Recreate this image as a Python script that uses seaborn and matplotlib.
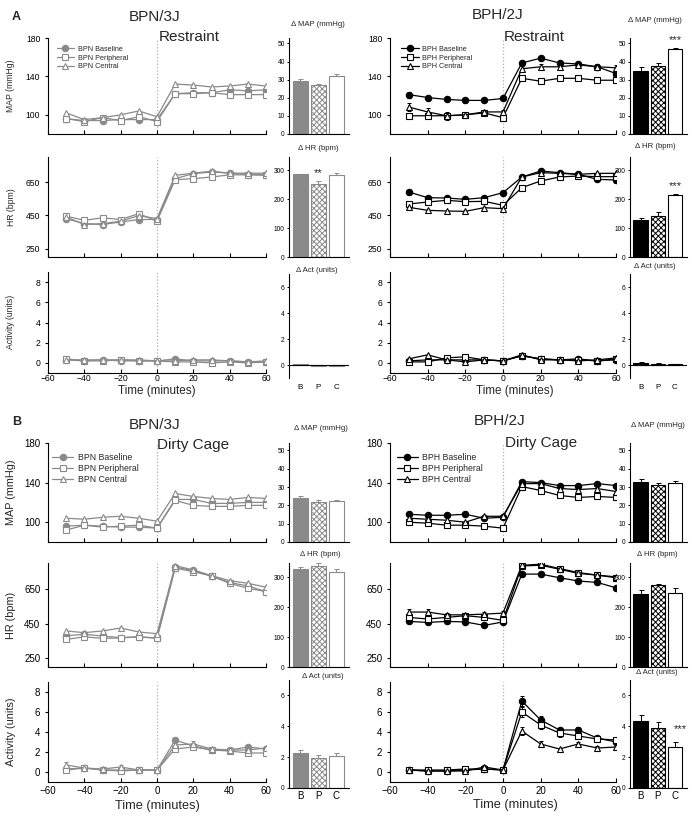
import matplotlib
matplotlib.use("Agg")
import matplotlib.pyplot as plt
import seaborn as sns

# ==========================================
# DATOS
# ==========================================
TIEMPO = [-50, -40, -30, -20, -10, 0, 10, 20, 30, 40, 50, 60]
BARRAS = ["B", "P", "C"]

# --- A: Restraint, BPN/3J ---
A_BPN_MAP_BASE = [96, 94, 94, 95, 95, 95, 122, 123, 123, 126, 125, 126]
A_BPN_MAP_PERI = [96, 93, 97, 94, 98, 93, 122, 122, 123, 121, 121, 121]
A_BPN_MAP_CENT = [102, 95, 97, 100, 104, 98, 132, 131, 129, 130, 132, 130]
A_BPN_HR_BASE = [430, 400, 395, 410, 425, 425, 670, 700, 710, 703, 695, 695]
A_BPN_HR_PERI = [445, 420, 435, 425, 460, 415, 664, 670, 680, 693, 693, 690]
A_BPN_HR_CENT = [440, 395, 400, 415, 448, 430, 690, 703, 715, 703, 703, 703]
A_BPN_ACT_BASE = [0.3, 0.2, 0.3, 0.2, 0.2, 0.2, 0.4, 0.2, 0.2, 0.2, 0.1, 0.1]
A_BPN_ACT_PERI = [0.4, 0.2, 0.2, 0.3, 0.2, 0.2, 0.1, 0.1, 0.0, 0.1, 0.0, 0.1]
A_BPN_ACT_CENT = [0.3, 0.3, 0.3, 0.3, 0.3, 0.2, 0.2, 0.3, 0.3, 0.2, 0.1, 0.2]

# --- A: Restraint, BPH/2J ---
A_BPH_MAP_BASE = [121, 118, 116, 115, 115, 117, 154, 159, 154, 153, 150, 143]
A_BPH_MAP_PERI = [99, 99, 99, 100, 102, 97, 138, 135, 138, 138, 136, 136]
A_BPH_MAP_CENT = [108, 103, 99, 100, 103, 103, 148, 150, 150, 152, 150, 149]
A_BPH_MAP_ERR_BASE = [3, 2, 2, 3, 2, 2, 2, 2, 2, 2, 2, 3]
A_BPH_MAP_ERR_PERI = [2, 2, 2, 2, 2, 2, 2, 2, 2, 2, 2, 2]
A_BPH_MAP_ERR_CENT = [4, 4, 4, 2, 2, 2, 3, 3, 3, 3, 3, 3]
A_BPH_HR_BASE = [590, 556, 554, 546, 556, 586, 680, 716, 706, 696, 666, 662]
A_BPH_HR_PERI = [518, 530, 540, 532, 534, 510, 616, 656, 680, 686, 682, 682]
A_BPH_HR_CENT = [498, 480, 476, 474, 496, 490, 680, 706, 702, 696, 702, 702]
A_BPH_HR_ERR_BASE = [15, 10, 10, 10, 10, 10, 10, 15, 12, 10, 10, 15]
A_BPH_ACT_BASE = [0.2, 0.3, 0.3, 0.3, 0.3, 0.2, 0.7, 0.4, 0.3, 0.4, 0.2, 0.3]
A_BPH_ACT_PERI = [0.1, 0.1, 0.5, 0.6, 0.3, 0.2, 0.7, 0.4, 0.3, 0.3, 0.2, 0.4]
A_BPH_ACT_CENT = [0.4, 0.8, 0.3, 0.1, 0.3, 0.2, 0.8, 0.3, 0.3, 0.2, 0.3, 0.5]

# --- B: Dirty Cage, BPN/3J ---
B_BPN_MAP_BASE = [96, 97, 96, 95, 95, 94, 123, 123, 119, 119, 120, 120]
B_BPN_MAP_PERI = [92, 97, 95, 96, 97, 94, 122, 117, 116, 116, 117, 117]
B_BPN_MAP_CENT = [104, 103, 105, 106, 104, 101, 129, 126, 124, 123, 125, 124]
B_BPN_HR_BASE = [380, 389, 378, 370, 374, 368, 776, 757, 725, 687, 668, 635]
B_BPN_HR_PERI = [359, 374, 365, 368, 374, 365, 770, 750, 725, 683, 654, 635]
B_BPN_HR_CENT = [408, 398, 408, 425, 402, 392, 785, 760, 727, 698, 683, 660]
B_BPN_ACT_BASE = [0.3, 0.4, 0.2, 0.2, 0.2, 0.2, 3.2, 2.6, 2.2, 2.2, 2.5, 2.3]
B_BPN_ACT_PERI = [0.2, 0.4, 0.2, 0.1, 0.2, 0.2, 2.3, 2.5, 2.2, 2.1, 1.9, 1.9]
B_BPN_ACT_CENT = [0.7, 0.4, 0.3, 0.5, 0.2, 0.2, 2.7, 2.8, 2.3, 2.2, 2.2, 2.4]
B_BPN_ACT_ERR_CENT = [0.3, 0.1, 0.1, 0.2, 0.1, 0.1, 0.2, 0.3, 0.2, 0.1, 0.2, 0.2]

# --- B: Dirty Cage, BPH/2J ---
B_BPH_MAP_BASE = [108, 107, 107, 108, 104, 105, 141, 140, 137, 137, 139, 137]
B_BPH_MAP_PERI = [100, 99, 97, 97, 96, 94, 136, 132, 127, 125, 126, 125]
B_BPH_MAP_CENT = [104, 103, 102, 100, 106, 106, 139, 139, 134, 133, 134, 131]
B_BPH_HR_BASE = [463, 457, 463, 460, 440, 460, 736, 736, 715, 696, 688, 657]
B_BPH_HR_PERI = [486, 477, 486, 496, 486, 469, 783, 787, 764, 740, 730, 715]
B_BPH_HR_CENT = [517, 517, 501, 501, 505, 511, 787, 793, 768, 745, 730, 720]
B_BPH_HR_ERR_CENT = [20, 15, 10, 10, 15, 10, 10, 10, 10, 10, 10, 10]
B_BPH_ACT_BASE = [0.2, 0.1, 0.1, 0.2, 0.3, 0.2, 7.1, 5.2, 4.2, 4.2, 3.4, 3.0]
B_BPH_ACT_PERI = [0.2, 0.2, 0.2, 0.3, 0.3, 0.2, 6.0, 4.7, 3.9, 3.6, 3.3, 3.2]
B_BPH_ACT_CENT = [0.2, 0.1, 0.1, 0.1, 0.5, 0.2, 4.1, 2.8, 2.3, 2.8, 2.4, 2.5]
B_BPH_ACT_ERR_BASE = [0.1, 0.1, 0.1, 0.1, 0.1, 0.1, 0.5, 0.4, 0.2, 0.3, 0.2, 0.2]
B_BPH_ACT_ERR_PERI = [0.1, 0.1, 0.1, 0.1, 0.1, 0.1, 0.5, 0.4, 0.4, 0.3, 0.3, 0.2]
B_BPH_ACT_ERR_CENT = [0.1, 0.1, 0.1, 0.1, 0.2, 0.1, 0.4, 0.3, 0.1, 0.2, 0.2, 0.1]

# --- Barras: cambio (Delta) respecto al basal ---
A_BPN_D_MAP = [29.5, 27.2, 31.8]
A_BPN_D_MAP_ERR = [0.8, 0.5, 1.3]
A_BPN_D_HR = [285, 252, 284]
A_BPN_D_HR_ERR = [3, 9, 7]
A_BPN_D_ACT = [0.05, -0.1, -0.06]
A_BPN_D_ACT_ERR = [0.03, 0.03, 0.03]
A_BPH_D_MAP = [34.8, 37.5, 46.8]
A_BPH_D_MAP_ERR = [2.0, 1.5, 0.6]
A_BPH_D_HR = [126, 143, 214]
A_BPH_D_HR_ERR = [10, 12, 4]
A_BPH_D_ACT = [0.15, 0.1, 0.08]
A_BPH_D_ACT_ERR = [0.06, 0.03, 0.03]
B_BPN_D_MAP = [24.2, 21.8, 22.2]
B_BPN_D_MAP_ERR = [0.8, 1.2, 0.9]
B_BPN_D_HR = [327, 338, 319]
B_BPN_D_HR_ERR = [8, 9, 8]
B_BPN_D_ACT = [2.3, 1.96, 2.07]
B_BPN_D_ACT_ERR = [0.15, 0.2, 0.2]
B_BPH_D_MAP = [33.0, 31.0, 32.2]
B_BPH_D_MAP_ERR = [1.2, 1.0, 0.9]
B_BPH_D_HR = [245, 274, 249]
B_BPH_D_HR_ERR = [13, 5, 15]
B_BPH_D_ACT = [4.35, 3.9, 2.68]
B_BPH_D_ACT_ERR = [0.35, 0.38, 0.28]

# ==========================================
# ESTILO
# ==========================================
GRIS = "#8a8a8a"
NEGRO = "black"

sns.set_style("ticks")
plt.rcParams["font.family"] = ["Liberation Sans", "DejaVu Sans"]
plt.rcParams["hatch.linewidth"] = 0.7
plt.rcParams["axes.linewidth"] = 0.8
plt.rcParams["axes.edgecolor"] = "black"
plt.rcParams["xtick.color"] = "black"
plt.rcParams["ytick.color"] = "black"

W, H = 693, 817
fig = plt.figure(figsize=(W / 100, H / 100), dpi=100)


def caja(x0, y0, x1, y1):
    """Convierte una caja en pixeles (origen arriba-izquierda) a coordenadas de figura."""
    return [x0 / W, 1 - y1 / H, (x1 - x0) / W, (y1 - y0) / H]


def texto(px, py, s, **kw):
    fig.text(px / W, 1 - py / H, s, **kw)


def panel_lineas(cx, cy, cepa, series, errores, color, ylim, yticks, fs, con_x, leyenda=None):
    ax = fig.add_axes(caja(cx[0], cy[0], cx[1], cy[1]))
    estilos = [("o", color), ("s", "white"), ("^", "white")]
    nombres = [f"{cepa} Baseline", f"{cepa} Peripheral", f"{cepa} Central"]
    for valores, err, (marca, relleno), nombre in zip(series, errores, estilos, nombres):
        if err is not None:
            ax.errorbar(TIEMPO, valores, yerr=err, fmt="none", ecolor=color,
                        elinewidth=0.7, capsize=1.6, capthick=0.7, zorder=1)
        sns.lineplot(x=TIEMPO, y=valores, ax=ax, color=color, linewidth=0.9,
                     marker=marca, markersize=4.6, markerfacecolor=relleno,
                     markeredgecolor=color, markeredgewidth=0.8, label=nombre,
                     legend=False, zorder=2)
    ax.axvline(0, color="#b0b0b0", linestyle=":", linewidth=0.9, zorder=0)
    ax.set_xlim(-60, 60)
    ax.set_ylim(*ylim)
    ax.set_xticks(range(-60, 61, 20))
    ax.set_yticks(yticks)
    ax.tick_params(axis="x", direction="in", length=3, width=0.8,
                   labelsize=fs, pad=0.5 if fs < 7 else 3)
    ax.tick_params(axis="y", direction="out", length=2.5, width=0.8,
                   labelsize=fs, pad=3)
    if not con_x:
        ax.set_xticklabels([])
    ax.set_xlabel("")
    ax.set_ylabel("")
    sns.despine(ax=ax)
    if leyenda is not None:
        ax.legend(loc="upper left", bbox_to_anchor=leyenda[0], frameon=False,
                  fontsize=leyenda[1], handlelength=2.4, handletextpad=0.5,
                  labelspacing=0.25, borderaxespad=0, borderpad=0)
    return ax


def panel_barras(cx, cy, valores, errores, color, ylim, yticks, etiquetas=None,
                 fs_eti=6, marca=None):
    ax = fig.add_axes(caja(cx[0], cy[0], cx[1], cy[1]))
    paleta = {"B": color, "P": "white", "C": "white"}
    sns.barplot(x=BARRAS, y=valores, hue=BARRAS, palette=paleta, legend=False,
                width=0.84, edgecolor=color, linewidth=0.8, saturation=1, ax=ax)
    for barra, cat in zip(ax.patches, BARRAS):
        if cat == "P":
            barra.set_hatch("xxxxxx")
    ax.errorbar(range(3), valores, yerr=[[0, 0, 0], errores], fmt="none",
                ecolor=color, elinewidth=0.7, capsize=1.8, capthick=0.7)
    ax.set_xlim(-0.62, 2.7)
    ax.set_ylim(*ylim)
    ax.set_yticks(yticks)
    ax.tick_params(axis="y", direction="out", length=1.8, width=0.7,
                   labelsize=4.8, pad=1.2)
    if ylim[0] < 0:
        ax.axhline(0, color="black", linewidth=0.8)
    if etiquetas:
        ax.set_xticks(range(3), BARRAS)
        ax.tick_params(axis="x", length=0, labelsize=fs_eti, pad=etiquetas)
    else:
        ax.set_xticks([])
    ax.set_xlabel("")
    ax.set_ylabel("")
    sns.despine(ax=ax)
    if ylim[0] < 0:
        ax.spines["bottom"].set_visible(False)
    if marca is not None:
        ax.text(marca[0], marca[1], marca[2], ha="center", va="bottom",
                fontsize=8, clip_on=False)
    return ax


# ==========================================
# COMPOSICION
# ==========================================
IZQ_L, IZQ_B = (48, 266), (289, 349)
DER_L, DER_B = (390, 616), (630, 687)

SECCIONES = [
    {
        "filas": [(38, 134), (157, 257), (272, 373)], "fila_act_bar": (274, 378),
        "fs": 6.2, "fs_leg": 5.2, "act_ylim": (-1, 7), "pad_eti": 4, "fs_eti": 5.8,
    },
    {
        "filas": [(443, 542), (563, 667), (682, 782)], "fila_act_bar": (680, 788),
        "fs": 7.0, "fs_leg": 6.3, "act_ylim": (0, 7), "pad_eti": 2, "fs_eti": 7,
    },
]

# --- Seccion A ---
s = SECCIONES[0]
panel_lineas(IZQ_L, s["filas"][0], "BPN", [A_BPN_MAP_BASE, A_BPN_MAP_PERI, A_BPN_MAP_CENT],
             [None, None, None], GRIS, (80, 180), [100, 140, 180], s["fs"], False,
             leyenda=((0.04, 0.92), s["fs_leg"]))
panel_lineas(IZQ_L, s["filas"][1], "BPN", [A_BPN_HR_BASE, A_BPN_HR_PERI, A_BPN_HR_CENT],
             [None, None, None], GRIS, (200, 800), [250, 450, 650], s["fs"], False)
panel_lineas(IZQ_L, s["filas"][2], "BPN", [A_BPN_ACT_BASE, A_BPN_ACT_PERI, A_BPN_ACT_CENT],
             [None, None, None], GRIS, (-1, 9), [0, 2, 4, 6, 8], s["fs"], True)
panel_lineas(DER_L, s["filas"][0], "BPH", [A_BPH_MAP_BASE, A_BPH_MAP_PERI, A_BPH_MAP_CENT],
             [A_BPH_MAP_ERR_BASE, A_BPH_MAP_ERR_PERI, A_BPH_MAP_ERR_CENT], NEGRO,
             (80, 180), [100, 140, 180], s["fs"], False,
             leyenda=((0.05, 0.92), s["fs_leg"]))
panel_lineas(DER_L, s["filas"][1], "BPH", [A_BPH_HR_BASE, A_BPH_HR_PERI, A_BPH_HR_CENT],
             [A_BPH_HR_ERR_BASE, None, None], NEGRO, (200, 800), [250, 450, 650], s["fs"], False)
panel_lineas(DER_L, s["filas"][2], "BPH", [A_BPH_ACT_BASE, A_BPH_ACT_PERI, A_BPH_ACT_CENT],
             [None, None, None], NEGRO, (-1, 9), [0, 2, 4, 6, 8], s["fs"], True)

panel_barras(IZQ_B, s["filas"][0], A_BPN_D_MAP, A_BPN_D_MAP_ERR, GRIS, (0, 53), range(0, 51, 10))
panel_barras(IZQ_B, s["filas"][1], A_BPN_D_HR, A_BPN_D_HR_ERR, GRIS, (0, 345), [0, 100, 200, 300],
             marca=(1, 272, "**"))
panel_barras(IZQ_B, s["fila_act_bar"], A_BPN_D_ACT, A_BPN_D_ACT_ERR, GRIS, s["act_ylim"], [0, 2, 4, 6],
             etiquetas=s["pad_eti"], fs_eti=s["fs_eti"])
panel_barras(DER_B, s["filas"][0], A_BPH_D_MAP, A_BPH_D_MAP_ERR, NEGRO, (0, 53), range(0, 51, 10),
             marca=(2, 49, "***"))
panel_barras(DER_B, s["filas"][1], A_BPH_D_HR, A_BPH_D_HR_ERR, NEGRO, (0, 345), [0, 100, 200, 300],
             marca=(2, 228, "***"))
panel_barras(DER_B, s["fila_act_bar"], A_BPH_D_ACT, A_BPH_D_ACT_ERR, NEGRO, s["act_ylim"], [0, 2, 4, 6],
             etiquetas=s["pad_eti"], fs_eti=s["fs_eti"])

# --- Seccion B ---
s = SECCIONES[1]
panel_lineas(IZQ_L, s["filas"][0], "BPN", [B_BPN_MAP_BASE, B_BPN_MAP_PERI, B_BPN_MAP_CENT],
             [None, None, None], GRIS, (80, 180), [100, 140, 180], s["fs"], False,
             leyenda=((0.02, 0.9), s["fs_leg"]))
panel_lineas(IZQ_L, s["filas"][1], "BPN", [B_BPN_HR_BASE, B_BPN_HR_PERI, B_BPN_HR_CENT],
             [None, None, None], GRIS, (200, 800), [250, 450, 650], s["fs"], False)
panel_lineas(IZQ_L, s["filas"][2], "BPN", [B_BPN_ACT_BASE, B_BPN_ACT_PERI, B_BPN_ACT_CENT],
             [None, None, B_BPN_ACT_ERR_CENT], GRIS, (-1, 9), [0, 2, 4, 6, 8], s["fs"], True)
panel_lineas(DER_L, s["filas"][0], "BPH", [B_BPH_MAP_BASE, B_BPH_MAP_PERI, B_BPH_MAP_CENT],
             [None, None, None], NEGRO, (80, 180), [100, 140, 180], s["fs"], False,
             leyenda=((0.03, 0.9), s["fs_leg"]))
panel_lineas(DER_L, s["filas"][1], "BPH", [B_BPH_HR_BASE, B_BPH_HR_PERI, B_BPH_HR_CENT],
             [None, None, B_BPH_HR_ERR_CENT], NEGRO, (200, 800), [250, 450, 650], s["fs"], False)
panel_lineas(DER_L, s["filas"][2], "BPH", [B_BPH_ACT_BASE, B_BPH_ACT_PERI, B_BPH_ACT_CENT],
             [B_BPH_ACT_ERR_BASE, B_BPH_ACT_ERR_PERI, B_BPH_ACT_ERR_CENT], NEGRO,
             (-1, 9), [0, 2, 4, 6, 8], s["fs"], True)

panel_barras(IZQ_B, s["filas"][0], B_BPN_D_MAP, B_BPN_D_MAP_ERR, GRIS, (0, 54), range(0, 51, 10))
panel_barras(IZQ_B, s["filas"][1], B_BPN_D_HR, B_BPN_D_HR_ERR, GRIS, (0, 348), [0, 100, 200, 300])
panel_barras(IZQ_B, s["fila_act_bar"], B_BPN_D_ACT, B_BPN_D_ACT_ERR, GRIS, s["act_ylim"], [0, 2, 4, 6],
             etiquetas=s["pad_eti"], fs_eti=s["fs_eti"])
panel_barras(DER_B, s["filas"][0], B_BPH_D_MAP, B_BPH_D_MAP_ERR, NEGRO, (0, 54), range(0, 51, 10))
panel_barras(DER_B, s["filas"][1], B_BPH_D_HR, B_BPH_D_HR_ERR, NEGRO, (0, 348), [0, 100, 200, 300])
panel_barras(DER_B, s["fila_act_bar"], B_BPH_D_ACT, B_BPH_D_ACT_ERR, NEGRO, s["act_ylim"], [0, 2, 4, 6],
             etiquetas=s["pad_eti"], fs_eti=s["fs_eti"], marca=(2.3, 3.5, "***"))

# ==========================================
# TEXTOS
# ==========================================
texto(12, 17, "A", fontsize=9, fontweight="bold", ha="left", va="center")
texto(12, 422, "B", fontsize=9, fontweight="bold", ha="left", va="center")

texto(155, 17, "BPN/3J", fontsize=11, ha="center", va="center")
texto(498, 15, "BPH/2J", fontsize=11, ha="center", va="center")
texto(155, 425, "BPN/3J", fontsize=11, ha="center", va="center")
texto(500, 421, "BPH/2J", fontsize=11, ha="center", va="center")

texto(159, 37, "Restraint", fontsize=11, ha="left", va="center")
texto(504, 37, "Restraint", fontsize=11, ha="left", va="center")
texto(157, 445, "Dirty Cage", fontsize=11, ha="left", va="center")
texto(505, 443, "Dirty Cage", fontsize=11, ha="left", va="center")

# Etiquetas de eje Y (solo columna izquierda)
for (y, s_lab, fs) in [(86, "MAP (mmHg)", 6.2), (207, "HR (bpm)", 6.2), (322, "Activity (units)", 6.2),
                       (492, "MAP (mmHg)", 7.8), (615, "HR (bpm)", 7.8), (732, "Activity (units)", 7.8)]:
    texto(11, y, s_lab, fontsize=fs, rotation=90, ha="center", va="center")

texto(157, 391, "Time (minutes)", fontsize=8.4, ha="center", va="center")
texto(515, 391, "Time (minutes)", fontsize=8.4, ha="center", va="center")
texto(157, 806, "Time (minutes)", fontsize=9.2, ha="center", va="center")
texto(515, 805, "Time (minutes)", fontsize=9.2, ha="center", va="center")

# Titulos de las barras
for (x, y, s_lab) in [(318, 24, "\u0394 MAP (mmHg)"), (318, 148, "\u0394 HR (bpm)"), (317, 270, "\u0394 Act (units)"),
                      (655, 21, "\u0394 MAP (mmHg)"), (655, 146, "\u0394 HR (bpm)"), (655, 267, "\u0394 Act (units)"),
                      (321, 429, "\u0394 MAP (mmHg)"), (320, 555, "\u0394 HR (bpm)"), (323, 677, "\u0394 Act (units)"),
                      (658, 426, "\u0394 MAP (mmHg)"), (657, 555, "\u0394 HR (bpm)"), (657, 673, "\u0394 Act (units)")]:
    texto(x, y, s_lab, fontsize=5.6, ha="center", va="center")

fig.savefig("out.png", dpi=100)
